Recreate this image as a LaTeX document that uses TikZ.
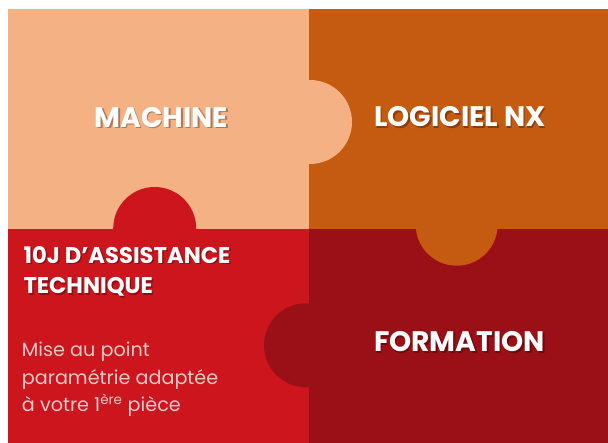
\documentclass[tikz,border=0pt]{standalone}
\usepackage{fontspec}
\setmainfont{Poppins}
\definecolor{peach}{RGB}{244,177,131}
\definecolor{burnt}{RGB}{197,90,17}
\definecolor{redp}{RGB}{204,21,28}
\definecolor{darkp}{RGB}{154,16,22}
\definecolor{bodytxt}{RGB}{232,200,200}
\tikzset{
  title/.style={text=white,font=\bfseries\fontsize{28.2}{30}\selectfont,inner sep=0pt,anchor=base},
  titlesh/.style={title,text=black,text opacity=0.3},
  subtitle/.style={text=white,font=\bfseries\fontsize{22.7}{24}\selectfont,inner sep=0pt,anchor=base west},
  subtitlesh/.style={subtitle,text=black,text opacity=0.3},
  body/.style={text=bodytxt,font=\fontsize{19.2}{21}\selectfont,inner sep=0pt,anchor=base west},
}
\begin{document}
\begin{tikzpicture}[x=1pt,y=-1pt]
\useasboundingbox (0,0) rectangle (608,443);
\fill[white] (0,0) rectangle (608,443);
% pieces
\fill[peach] (8,9) rectangle (309,229.5);
\fill[burnt] (309,9) rectangle (608,229.5);
\fill[redp] (8,229.5) rectangle (309,443);
\fill[darkp] (309,229.5) rectangle (608,443);
% tabs
\fill[peach] (310,122) circle[radius=42];
\fill[redp] (154.7,228.5) circle[radius=41.5];
\fill[burnt] (456.7,224.7) circle[radius=41];
\fill[darkp] (306,345.3) circle[radius=42];
% titles
\node[titlesh] (machinesh) at (162.8,128.8) {MACHINE};
\node[title] (machine) at (161.3,127.3) {MACHINE};
\node[titlesh] (nxsh) at (461.5,128.2) {LOGICIEL NX};
\node[title] (nx) at (460,126.7) {LOGICIEL NX};
\node[titlesh] (formationsh) at (461,353.2) {FORMATION};
\node[title] (formation) at (459.5,351.7) {FORMATION};
\node[subtitlesh] (assist1sh) at (24.8,264.8) {10J D’ASSISTANCE};
\node[subtitle] (assist1) at (23.3,263.3) {10J D’ASSISTANCE};
\node[subtitlesh] (assist2sh) at (24.8,295.5) {TECHNIQUE};
\node[subtitle] (assist2) at (23.3,294) {TECHNIQUE};
\node[body] (b1) at (21.7,356.7) {Mise au point};
\node[body] (b2) at (21.7,385) {paramétrie adaptée};
\node[body] (b3) at (21.7,411.7) {à votre 1\textsuperscript{ère} pièce};
\end{tikzpicture}
\end{document}
